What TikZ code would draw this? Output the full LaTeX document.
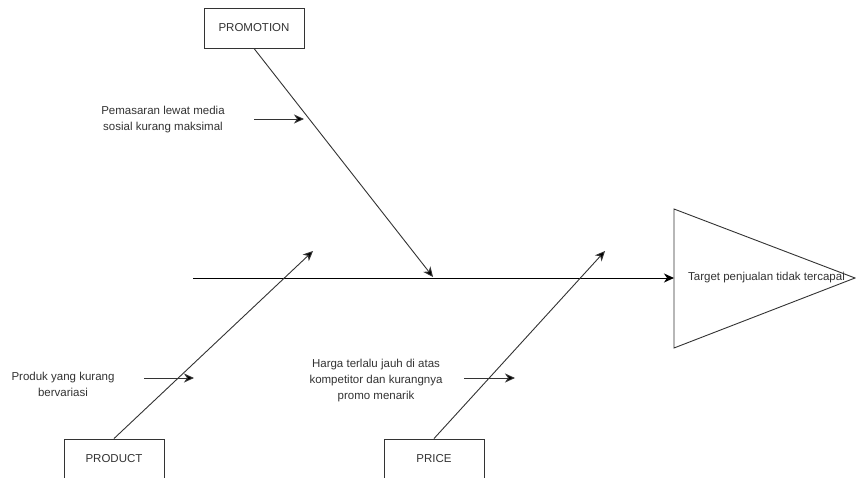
\documentclass[tikz,border=0pt]{standalone}
\usepackage{fontspec}
\setmainfont{Liberation Sans}
\usetikzlibrary{arrows.meta}
\definecolor{txt}{HTML}{333333}
\tikzset{
  box/.style={draw=black!80, line width=0.9pt, minimum width=100pt, minimum height=40pt, inner sep=0pt, font=\fontsize{11.5}{14}\selectfont, text=txt},
  lbl/.style={align=center, font=\fontsize{11.5}{16}\selectfont, text=txt, inner sep=0pt},
  tipA/.style={-{Stealth[length=10pt,width=9pt,inset=3pt,fill=black]}},
  bone/.style={draw=black!80, line width=0.9pt, tipA},
  spine/.style={draw=black, line width=1pt, tipA},
  head/.style={draw=black!80, line width=0.9pt, fill=white}
}
\begin{document}
\begin{tikzpicture}[x=1pt,y=-1pt]
\clip (0,0) rectangle (856,478);
\fill[white] (0,0) rectangle (856,478);
% head triangle
\draw[head] (674,209) coordinate (t1) -- (855,278) coordinate (tip) -- (674,348) coordinate (t3) -- cycle;
\node[lbl, anchor=west] (eff) at (688,278) {Target penjualan tidak tercapai};
\coordinate (s0) at (193,278);
\coordinate (s1) at (674,278);
\draw[spine] (s0) -- (s1);
% boxes
\node[box] (promo) at (254,28) {PROMOTION};
\node[box] (prod) at (114,459) {PRODUCT};
\node[box] (price) at (434,459) {PRICE};
\coordinate (pA) at (433,277);
\coordinate (pB) at (313,251);
\coordinate (pC) at (605,251);
\draw[bone] (promo.south) -- (pA);
\draw[bone] (prod.north) -- (pB);
\draw[bone] (price.north) -- (pC);
% labels and small arrows
\node[lbl] (l1) at (163,120) {Pemasaran lewat media\\sosial kurang maksimal};
\coordinate (a1s) at (254,119); \coordinate (a1e) at (304,119);
\draw[bone] (a1s) -- (a1e);
\node[lbl] (l2) at (63,384) {Produk yang kurang\\bervariasi};
\coordinate (a2s) at (144,378); \coordinate (a2e) at (194,378);
\draw[bone] (a2s) -- (a2e);
\node[lbl] (l3) at (376,381) {Harga terlalu jauh di atas\\kompetitor dan kurangnya\\promo menarik};
\coordinate (a3s) at (464,378); \coordinate (a3e) at (515,378);
\draw[bone] (a3s) -- (a3e);
\end{tikzpicture}
\end{document}
